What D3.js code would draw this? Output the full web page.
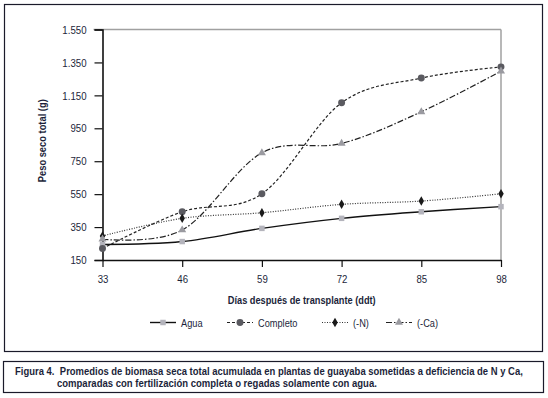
<!DOCTYPE html>
<html>
<head>
<meta charset="utf-8">
<script src="https://cdn.jsdelivr.net/npm/d3@7"></script>
<style>
    body { margin: 0; background: #fff; }
    svg text { font-family: "Liberation Sans", Arial, sans-serif; fill: #1c1f3a; }
</style>
</head>
<body>
<svg id="vis" width="548" height="398"></svg>
<script>
const days = [33, 46, 59, 72, 85, 98];
const yTicks = [150, 350, 550, 750, 950, 1150, 1350, 1550];
const agua = [244, 262, 342, 403, 443, 474];
const completo = [220, 443, 552, 1105, 1255, 1323];
const menosN = [296, 403, 437, 488, 508, 552];
const menosCa = [276, 332, 801, 858, 1050, 1297];
const seriesNames = ["Agua", "Completo", "(-N)", "(-Ca)"];

// the original uses a narrow font, squeeze with a horizontal scale
function squeeze(sel, k) {
    sel.each(function () {
        let t = d3.select(this);
        let x0 = +t.attr("x") || 0;
        let old = t.attr("transform") || "";
        t.attr("x", x0 / k).attr("transform", `${old} scale(${k},1)`);
    });
}
// squeeze a text so it is w pixels wide
function fitWidth(sel, w) {
    sel.each(function () {
        let k = w / this.getComputedTextLength();
        squeeze(d3.select(this), k);
    });
}

function chart() {
    let margin = { top: 29.5, right: 47, bottom: 138, left: 102.5 };
    let svg = d3.select("#vis");
    let width = +svg.attr("width") - margin.left - margin.right;
    let height = +svg.attr("height") - margin.top - margin.bottom;

    // frames
    svg.append("rect").attr("x", 4.5).attr("y", 4.5).attr("width", 538).attr("height", 347)
        .attr("fill", "none").attr("stroke", "#1a1a2a").attr("stroke-width", 1.2);
    svg.append("rect").attr("x", 3.5).attr("y", 361.5).attr("width", 540).attr("height", 31)
        .attr("fill", "none").attr("stroke", "#1a1a2a").attr("stroke-width", 1.2);

    let g = svg.append("g").attr("transform", `translate(${margin.left}, ${margin.top})`);

    let x = d3.scalePoint().domain(days).range([0, width]);
    let y = d3.scaleLinear().domain([150, 1550]).range([height, 0]);

    // gray top and right border
    g.append("line").attr("x1", -9).attr("x2", width).attr("y1", 0).attr("y2", 0)
        .attr("stroke", "#a0a0a0").attr("stroke-width", 1.5);
    g.append("line").attr("x1", width).attr("x2", width).attr("y1", 0).attr("y2", height)
        .attr("stroke", "#a0a0a0").attr("stroke-width", 1.5);

    let fmt = (d) => d3.format(",")(d).replace(",", ".");

    let ya = g.append("g")
        .call(d3.axisLeft(y).tickValues(yTicks).tickSize(8).tickPadding(8).tickFormat(fmt));
    ya.select(".domain").attr("stroke", "#111").attr("stroke-width", 1.6);
    ya.selectAll(".tick line").attr("stroke", "#111").attr("stroke-width", 1.2);
    ya.selectAll(".tick text").attr("font-size", 11.5).attr("fill", "#1c1f3a").call(squeeze, 0.84);

    let xa = g.append("g")
        .attr("transform", `translate(0, ${height})`)
        .call(d3.axisBottom(x).tickSize(7).tickSizeOuter(0).tickPadding(8));
    xa.select(".domain").attr("stroke", "#111").attr("stroke-width", 1.6);
    xa.selectAll(".tick line").attr("stroke", "#111").attr("stroke-width", 1.2);
    xa.selectAll(".tick text").attr("font-size", 11.5).attr("fill", "#1c1f3a").call(squeeze, 0.84);

    g.append("text")
        .attr("transform", `translate(-57, ${height / 2 - 4}) rotate(-90)`)
        .attr("text-anchor", "middle")
        .attr("font-size", 11.5).attr("font-weight", "bold")
        .text("Peso seco total (g)")
        .call(fitWidth, 83);

    g.append("text")
        .attr("transform", `translate(${width / 2}, ${height + 44})`)
        .attr("text-anchor", "middle")
        .attr("font-size", 11.5).attr("font-weight", "bold")
        .text("Días después de transplante (ddt)")
        .call(fitWidth, 148);

    let styles = [
        { data: agua, stroke: "#111", dash: null, width: 1.4, marker: "square", fill: "#b4b4bc" },
        { data: completo, stroke: "#222", dash: "3,2", width: 1.2, marker: "circle", fill: "#5a5a60" },
        { data: menosN, stroke: "#333", dash: "1,1.5", width: 1.2, marker: "diamond", fill: "#1a1a1a" },
        { data: menosCa, stroke: "#222", dash: "6,2,1.5,2", width: 1.2, marker: "triangle", fill: "#9a9aa0" }
    ];
    let symbols = {
        square: d3.symbol().type(d3.symbolSquare).size(30),
        circle: d3.symbol().type(d3.symbolCircle).size(38),
        diamond: d3.symbol().type(d3.symbolDiamond).size(26),
        triangle: d3.symbol().type(d3.symbolTriangle).size(28)
    };

    let line = d3.line()
        .x((d, i) => x(days[i]))
        .y((d) => y(d))
        .curve(d3.curveCardinal.tension(0));

    styles.forEach((s) => {
        g.append("path")
            .datum(s.data)
            .attr("fill", "none")
            .attr("stroke", s.stroke)
            .attr("stroke-width", s.width)
            .attr("stroke-dasharray", s.dash)
            .attr("d", line);
    });
    // markers drawn after all lines
    styles.forEach((s) => {
        g.selectAll(null)
            .data(s.data)
            .enter().append("path")
                .attr("transform", (d, i) => `translate(${x(days[i])}, ${y(d)})`)
                .attr("d", symbols[s.marker])
                .attr("fill", s.fill);
    });

    // legend
    let legendX = [150, 227, 322, 386];
    let legend = svg.append("g").attr("transform", "translate(0, 322.5)");
    styles.forEach((s, i) => {
        let lg = legend.append("g").attr("transform", `translate(${legendX[i]}, 0)`);
        lg.append("line").attr("x1", 0).attr("x2", 26).attr("y1", 0).attr("y2", 0)
            .attr("stroke", s.stroke).attr("stroke-width", s.width)
            .attr("stroke-dasharray", s.dash);
        lg.append("path").attr("transform", "translate(13, 0)")
            .attr("d", symbols[s.marker]).attr("fill", s.fill);
        lg.append("text").attr("x", 31).attr("y", 4)
            .attr("font-size", 11).text(seriesNames[i]).call(squeeze, 0.84);
    });

    // caption
    let cap1 = svg.append("text")
        .attr("transform", "translate(15, 374.5)")
        .attr("font-size", 10.5).attr("font-weight", "bold");
    cap1.append("tspan").text("Figura 4.");
    cap1.append("tspan").attr("dx", 6)
        .text("Promedios de biomasa seca total acumulada en plantas de guayaba sometidas a deficiencia de N y Ca,");
    cap1.call(fitWidth, 503);
    svg.append("text")
        .attr("transform", "translate(57, 386.8)")
        .attr("font-size", 10.5).attr("font-weight", "bold")
        .text("comparadas con fertilización completa o regadas solamente con agua.")
        .call(fitWidth, 320);
}
document.addEventListener('DOMContentLoaded', () => {
    chart();
});
</script>
</body>
</html>
